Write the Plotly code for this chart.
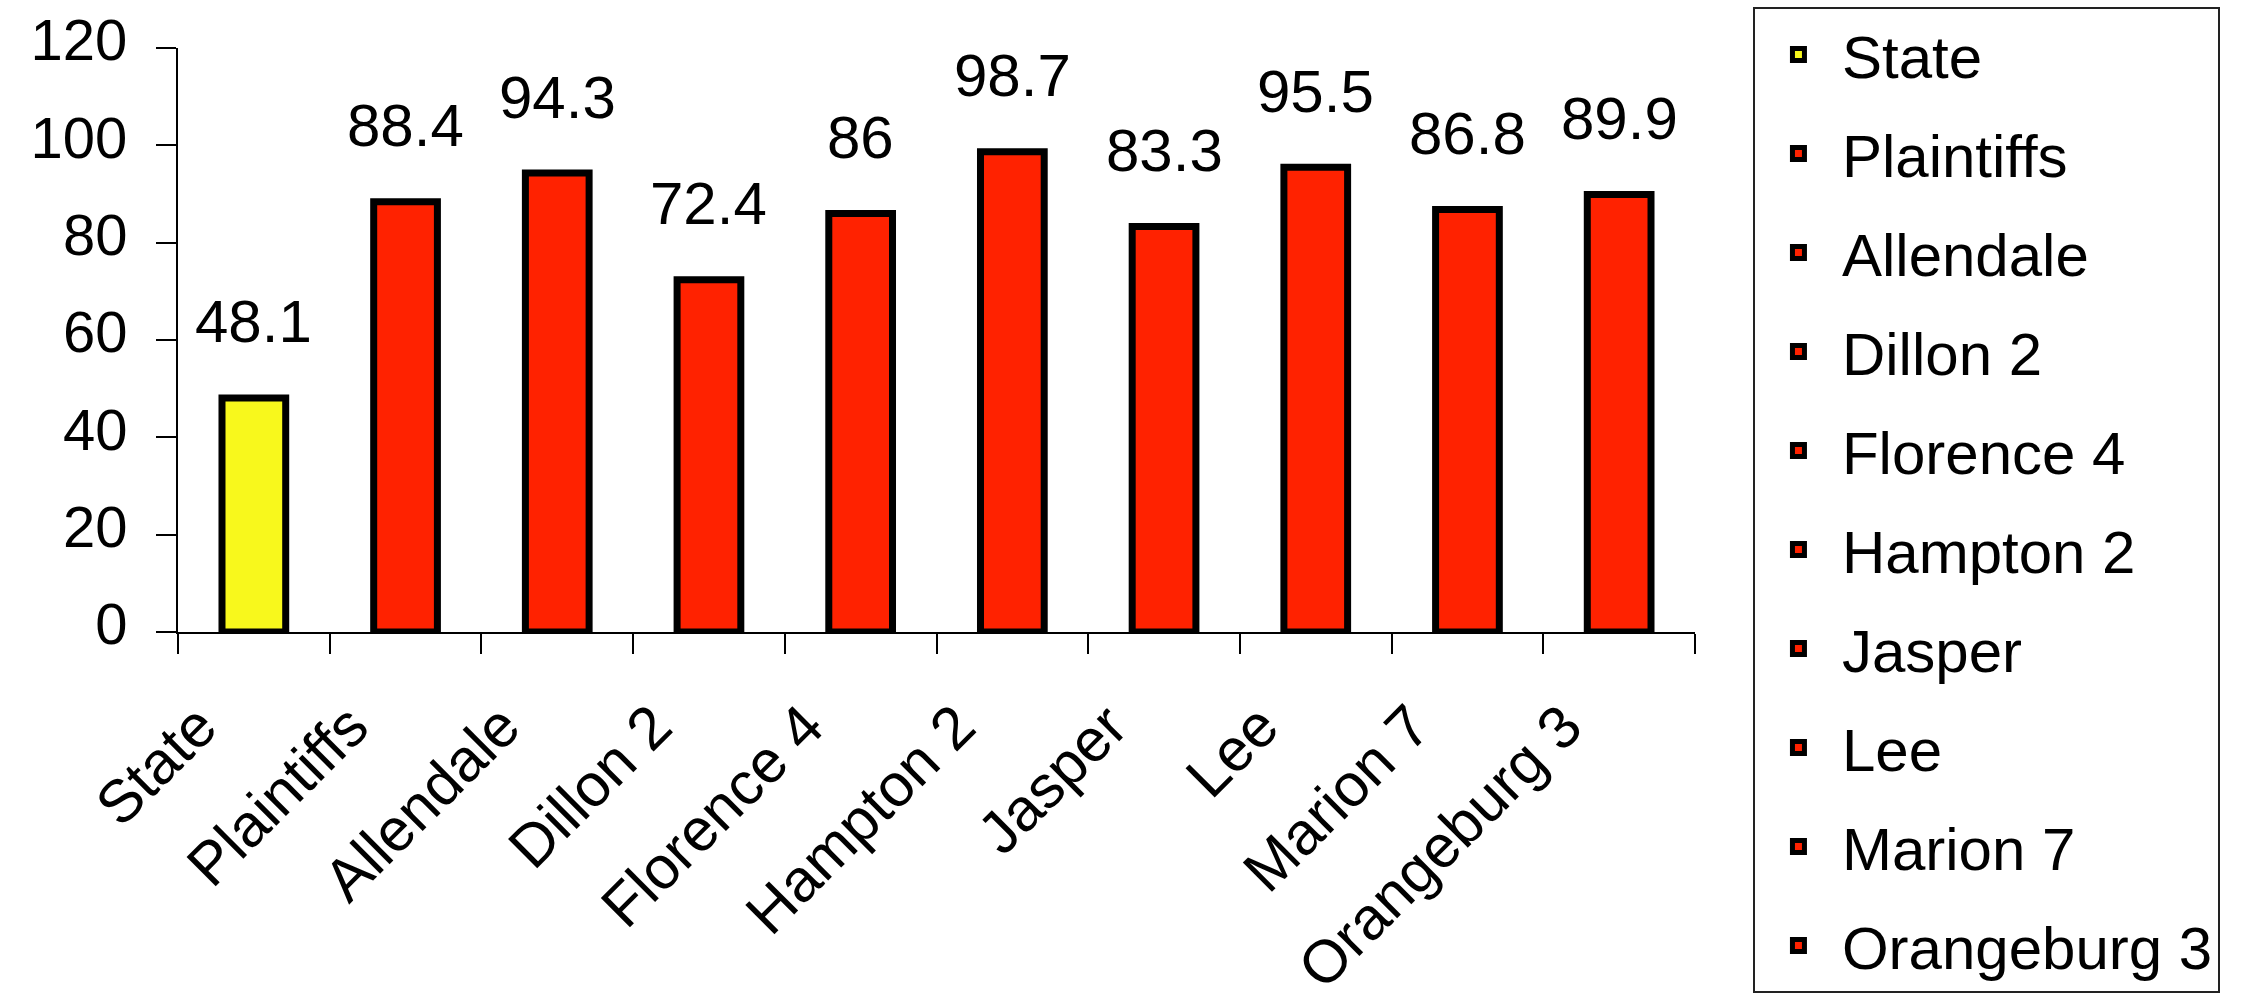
import plotly.graph_objects as go

categories = ["State", "Plaintiffs", "Allendale", "Dillon 2", "Florence 4",
              "Hampton 2", "Jasper", "Lee", "Marion 7", "Orangeburg 3"]
values = [48.1, 88.4, 94.3, 72.4, 86, 98.7, 83.3, 95.5, 86.8, 89.9]
colors = ["#F8F81C", "#FF2200", "#FF2200", "#FF2200", "#FF2200",
          "#FF2200", "#FF2200", "#FF2200", "#FF2200", "#FF2200"]
y_ticks = [0, 20, 40, 60, 80, 100, 120]

FONT = "Liberation Sans, Arial, sans-serif"

fig = go.Figure()
for i, (cat, val, col) in enumerate(zip(categories, values, colors)):
    fig.add_trace(go.Bar(
        x=[cat], y=[val], name=cat,
        marker=dict(color=col, line=dict(color="black", width=7)),
        legendgroup=cat,
    ))

annotations = []
for cat, val in zip(categories, values):
    annotations.append(dict(
        x=cat, y=val, xref="x", yref="y",
        text=f"{val:g}", showarrow=False,
        yanchor="middle", xanchor="center", yshift=76,
        font=dict(family=FONT, size=60, color="black"),
    ))

fig.update_layout(
    width=2267, height=993,
    margin=dict(l=178, r=572, t=43, b=361),
    paper_bgcolor="white", plot_bgcolor="white",
    barmode="overlay", bargap=0.58,
    font=dict(family=FONT, size=60, color="black"),
    showlegend=True,
    legend=dict(
        x=1.0382, y=1.061, xanchor="left", yanchor="top",
        bgcolor="white", bordercolor="#222222", borderwidth=2,
        font=dict(family=FONT, size=60, color="black"),
        traceorder="grouped", tracegroupgap=18,
        itemwidth=77, entrywidth=436, entrywidthmode="pixels",
        maxheight=1200,
    ),
    annotations=annotations,
)
fig.update_xaxes(
    type="category", categoryorder="array", categoryarray=categories,
    showline=True, linecolor="black", linewidth=2,
    ticks="outside", ticklen=20, tickwidth=2, tickcolor="black",
    tickson="boundaries", tickangle=-45,
    ticklabelstandoff=33, ticklabelshift=-55,
    tickfont=dict(family=FONT, size=60, color="black"),
    showgrid=False, zeroline=False, automargin=False,
)
fig.update_yaxes(
    range=[0, 120], tickvals=y_ticks,
    showline=True, linecolor="black", linewidth=2,
    ticks="outside", ticklen=20, tickwidth=2, tickcolor="black",
    tickfont=dict(family=FONT, size=58, color="black"),
    showgrid=False, zeroline=False, automargin=False,
    ticklabelstandoff=17, ticklabelshift=-8,
)

fig.write_html("out.html")
